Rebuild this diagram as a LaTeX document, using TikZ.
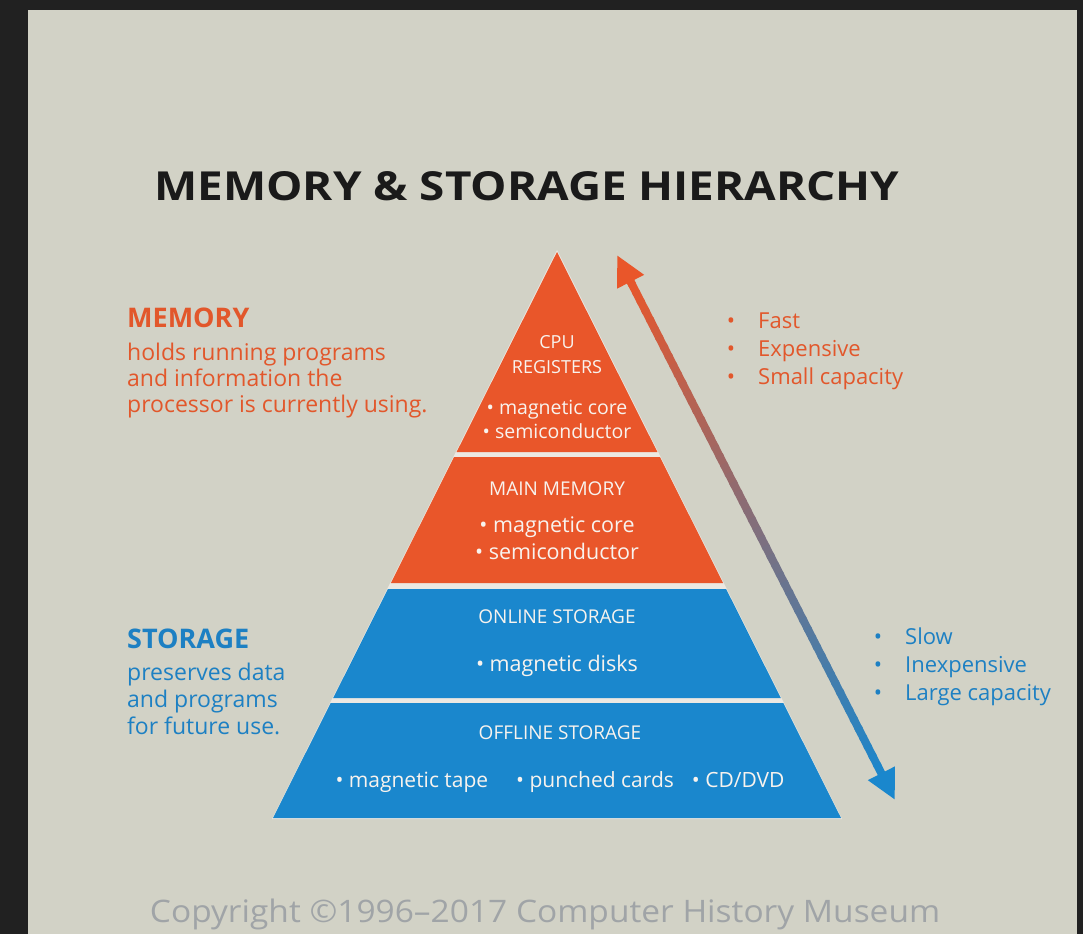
\documentclass[tikz,border=0pt]{standalone}
\usepackage{fontspec}
\setmainfont{Open Sans}
\usetikzlibrary{calc,arrows.meta}

\definecolor{bgdark}{HTML}{212121}
\definecolor{panel}{HTML}{D2D2C6}
\definecolor{memfill}{HTML}{E9562A}
\definecolor{stofill}{HTML}{1A87CD}
\definecolor{memtext}{HTML}{E2572B}
\definecolor{stotext}{HTML}{1D80C3}
\definecolor{gapcol}{HTML}{ECE8E2}
\definecolor{layertext}{HTML}{F8F3EE}
\definecolor{copygray}{HTML}{A0A4A7}
\definecolor{titleblack}{HTML}{1A1A1A}

\begin{document}
\begin{tikzpicture}[x=1pt,y=-1pt,
  titletext/.style={font=\bfseries\fontsize{40}{44}\selectfont, text=titleblack, inner sep=0pt},
  layerhead/.style={font=\fontsize{19}{22}\selectfont, text=layertext, anchor=base, inner sep=0pt},
  layeritem/.style={font=\fontsize{21.5}{24}\selectfont, text=layertext, anchor=base, inner sep=0pt},
  sidehead/.style={font=\bfseries\fontsize{27}{30}\selectfont, anchor=base west, inner sep=0pt},
  sidebody/.style={font=\fontsize{23}{26}\selectfont, anchor=base west, inner sep=0pt},
  listitem/.style={font=\fontsize{22}{24}\selectfont, anchor=base west, inner sep=0pt},
  listbullet/.style={font=\fontsize{22}{24}\selectfont, anchor=base, inner sep=0pt},
]
\useasboundingbox (0,0) rectangle (1083,934);
% frame and panel
\fill[bgdark] (0,0) rectangle (1083,934);
\fill[panel] (28,10) rectangle (1077,934);

% title
\node[titletext] (title) at (527,186) {\scalebox{1.145}[1]{MEMORY \& STORAGE HIERARCHY}};

% pyramid: light backing shows through as the separators between layers
\fill[gapcol] (557,250) -- (842,819) -- (272,819) -- cycle;
\fill[memfill] (557,252) -- (657.4,452) -- (456.6,452) -- cycle;
\fill[memfill] (454.1,457) -- (659.9,457) -- (723.1,583) -- (390.9,583) -- cycle;
\fill[stofill] (387.9,589) -- (726.1,589) -- (780.8,698) -- (333.2,698) -- cycle;
\fill[stofill] (330.7,703) -- (783.3,703) -- (841,818) -- (273,818) -- cycle;

% layer labels
\node[layerhead,font=\fontsize{18}{21}\selectfont] (cpu1) at (557,348) {CPU};
\node[layerhead,font=\fontsize{18}{21}\selectfont] (cpu2) at (557,373) {REGISTERS};
\node[layeritem,font=\fontsize{19.5}{22}\selectfont] (cpu3) at (557,414) {• magnetic core};
\node[layeritem,font=\fontsize{19.5}{22}\selectfont] (cpu4) at (557,438) {• semiconductor};

\node[layerhead] (mm1) at (557,495) {MAIN MEMORY};
\node[layeritem] (mm2) at (557,532) {• magnetic core};
\node[layeritem] (mm3) at (557,559) {• semiconductor};

\node[layerhead] (on1) at (557,623) {ONLINE STORAGE};
\node[layeritem] (on2) at (557,671) {• magnetic disks};

\node[layerhead] (off1) at (560,739) {OFFLINE STORAGE};
\node[layeritem,font=\fontsize{21}{23}\selectfont] (off2) at (560,787)
  {• magnetic tape\hspace{28pt}• punched cards\hspace{18pt}• CD/DVD};

% left captions
\node[sidehead,text=memtext] (memhead) at (127,327) {MEMORY};
\node[sidebody,text=memtext] (memb1) at (127,360) {holds running programs};
\node[sidebody,text=memtext] (memb2) at (127,386) {and information the};
\node[sidebody,text=memtext] (memb3) at (127,412) {processor is currently using.};

\node[sidehead,text=stotext] (stohead) at (127,648) {STORAGE};
\node[sidebody,text=stotext] (stob1) at (127,680) {preserves data};
\node[sidebody,text=stotext] (stob2) at (127,707) {and programs};
\node[sidebody,text=stotext] (stob3) at (127,734) {for future use.};

% right lists
\foreach \t [count=\i] in {Fast,Expensive,Small capacity}{
  \node[listbullet,text=memtext] (fb\i) at (731,300+28*\i) {•};
  \node[listitem,text=memtext] (ft\i) at (758,300+28*\i) {\t};
}
\foreach \t [count=\i] in {Slow,Inexpensive,Large capacity}{
  \node[listbullet,text=stotext] (sb\i) at (878,616+28*\i) {•};
  \node[listitem,text=stotext] (st\i) at (905,616+28*\i) {\t};
}

% double arrow, colour running from memory orange to storage blue
\coordinate (arrtop) at (617,255);
\coordinate (arrbot) at (895,800);
\def\nseg{60}
\foreach \k in {2,...,57}{
  \pgfmathsetmacro{\mix}{100-100*(\k-2)/55}
  \draw[line width=8pt, color=memfill!\mix!stofill]
    ($(arrtop)!{(\k)/\nseg}!(arrbot)$) -- ($(arrtop)!{(\k+1.3)/\nseg}!(arrbot)$);
}
\draw[line width=8pt, memfill, {Triangle[length=30pt,width=28pt]}-]
  (arrtop) -- ($(arrtop)!{2.5/\nseg}!(arrbot)$);
\draw[line width=8pt, stofill, -{Triangle[length=30pt,width=28pt]}]
  ($(arrtop)!{57.5/\nseg}!(arrbot)$) -- (arrbot);

% credit line
\node[font=\fontsize{31}{34}\selectfont, text=copygray, inner sep=0pt] (credit) at (545,914)
  {\scalebox{1.08}[1]{Copyright ©1996–2017 Computer History Museum}};
\end{tikzpicture}
\end{document}
